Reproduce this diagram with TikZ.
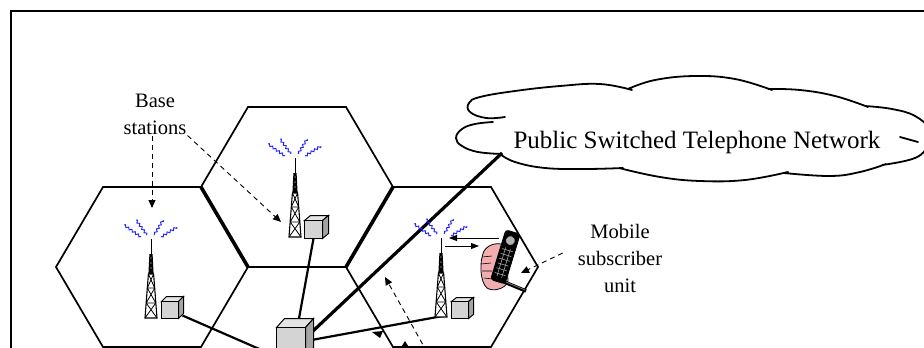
\documentclass[tikz,border=0pt]{standalone}
\usepackage{fontspec}
\setmainfont{Liberation Serif}
\usetikzlibrary{arrows.meta,decorations.pathmorphing,calc}
\definecolor{boxfront}{HTML}{D4D4D4}
\definecolor{boxtop}{HTML}{E4E4E4}
\definecolor{boxside}{HTML}{A4A4A4}
\definecolor{skin}{HTML}{F2AEAE}
\definecolor{wave}{HTML}{1E1EFF}

\begin{document}
\begin{tikzpicture}[x=1pt,y=-1pt,
  cell/.style={line width=1.7pt, line join=miter},
  sharededge/.style={line width=3.6pt},
  link/.style={line width=2.2pt},
  trunk/.style={line width=3.2pt},
  pointer/.style={dash pattern=on 5pt off 4pt, line width=0.9pt, -{Triangle[length=8pt,width=7pt]}},
  signal/.style={line width=0.9pt, -{Triangle[length=8pt,width=6pt]}},
  unitbox/.style={draw, line width=1pt, fill=boxfront, inner sep=0pt, minimum width=#1, minimum height=#1},
  caption/.style={font=\fontsize{20.5}{27}\selectfont, align=center, inner sep=1pt},
  cloudline/.style={line width=1.8pt, line cap=round, line join=round},
  radio/.style={wave, line width=0.9pt, decorate, decoration={zigzag, amplitude=1.1pt, segment length=4pt}},
  tower/.pic={
    % lattice mast with antenna and radiated signal marks
    \draw[line width=1pt] (0,-79) -- (0,-62);
    \fill (-1.6,-64) -- (1.6,-64) -- (2.6,-44) -- (-2.6,-44) -- cycle;
    \foreach \yy in {-60,-55,-50} \fill[white] (0,\yy) circle (0.6);
    \draw[line width=1.1pt, fill=white] (-2.6,-44) -- (2.6,-44) -- (6,0) -- (-6,0) -- cycle;
    \draw[line width=0.8pt] (-2.6,-44) -- (3.7,-30) (2.6,-44) -- (-3.7,-30)
      (-3.7,-30) -- (3.7,-30) (-3.7,-30) -- (4.8,-15) (3.7,-30) -- (-4.8,-15)
      (-4.8,-15) -- (4.8,-15) (-4.8,-15) -- (6,0) (4.8,-15) -- (-6,0);
    \begin{scope}[shift={(0,-79)}]
      \draw[radio] (-27,-14) -- (-10,-2);
      \draw[radio] (-15,-19) -- (-4,-4);
      \draw[radio] (12,-19) -- (3,-4);
      \draw[radio] (26,-12) -- (10,-2);
    \end{scope}
  },
]
\useasboundingbox (0,0) rectangle (924,348);
\clip (0,0) rectangle (924,348);

% frame
\draw[line width=2pt] (11,360) -- (11,11) -- (940,11);

% cells
\coordinate (cL) at (152,267);
\coordinate (cT) at (297,187);
\coordinate (cR) at (442,267);
\foreach \c in {cL,cT,cR}
  \draw[cell] ([shift={(96,0)}]\c) -- ([shift={(49,-80)}]\c) -- ([shift={(-49,-80)}]\c)
    -- ([shift={(-96,0)}]\c) -- ([shift={(-49,80)}]\c) -- ([shift={(49,80)}]\c) -- cycle;
\draw[sharededge] ([shift={(49,-80)}]cL) -- ([shift={(96,0)}]cL);
\draw[sharededge] ([shift={(-96,0)}]cR) -- ([shift={(-49,-80)}]cR);

% cloud
\draw[cloudline]
  plot[smooth, tension=0.7] coordinates {(505,117) (486,118) (470,112) (469,103) (480,97) (515,91) (560,86) (600,84) (632,90)}
  plot[smooth, tension=0.7] coordinates {(628,89) (655,80) (695,76) (735,79) (772,90)}
  plot[smooth, tension=0.7] coordinates {(768,89) (800,90) (835,96) (868,107)}
  plot[smooth, tension=0.7] coordinates {(865,106) (892,109) (915,116) (930,130) (928,145) (915,158) (882,165)}
  plot[smooth, tension=0.7] coordinates {(886,164) (860,172) (830,176) (784,173)}
  plot[smooth, tension=0.7] coordinates {(788,172) (745,180) (700,181) (660,177) (619,168)}
  plot[smooth, tension=0.7] coordinates {(623,168) (585,169) (545,168) (515,162) (500,154)}
  plot[smooth, tension=0.7] coordinates {(502,154) (478,152) (462,146) (456,138) (462,129) (475,124) (493,122)};
\draw[cloudline] (900,137) -- (918,142);
\node[font=\fontsize{25}{30}\selectfont, inner sep=0pt] (pstnlabel) at (697,142) {Public Switched Telephone Network};
\coordinate (cloudlink) at (502,153);

% equipment units
\node[unitbox=16] (lbox) at (170,310) {};
\node[unitbox=17] (tbox) at (313.5,229.5) {};
\node[unitbox=16] (rbox) at (460,310) {};
\node[unitbox=28] (msc) at (291,342) {};

% wiring between units
\draw[link] ($(lbox.south east)+(4,-3)$) -- (msc.south west);
\draw[link] (tbox.south) -- ($(msc.north)+(8,-9)$);
\draw[link] ($(msc.east)+(6,-2)$) -- ($(rbox.south west)+(-6,-3)$);
\draw[trunk] ($(msc.north east)+(7,4)$) -- (cloudlink);

% 3-D faces of the units
\foreach \n/\d/\e in {lbox/5/5, tbox/6/5, rbox/5/4, msc/8/9} {
  \filldraw[line width=1pt, fill=boxtop] (\n.north west) -- ++(\d,-\e) -- ($(\n.north east)+(\d,-\e)$) -- (\n.north east) -- cycle;
  \filldraw[line width=1pt, fill=boxside] (\n.north east) -- ++(\d,-\e) -- ($(\n.south east)+(\d,-\e)$) -- (\n.south east) -- cycle;
}
\foreach \n in {lbox,tbox,rbox,msc}
  \draw[line width=1pt, fill=boxfront] (\n.north west) rectangle (\n.south east);

% base station towers
\pic at (151,318) {tower};
\pic at (295,237) {tower};
\pic at (441,317) {tower};

% hand-held mobile unit
\filldraw[fill=skin, line width=0.8pt] (484,251) .. controls (489,243) and (500,242) .. (506,246)
  -- (508,281) .. controls (506,289) and (493,292) .. (487,288) .. controls (480,282) and (479,262) .. (484,251) -- cycle;
\draw[line width=0.6pt] (482,257) -- (492,256) (481,264) -- (491,263) (482,271) -- (492,271) (484,278) -- (493,279);
\draw[line width=3.5pt] (497,279) -- (526,291);
\draw[gray, line width=0.7pt] (499,279) -- (525,290);
\begin{scope}[shift={(513,232)}, rotate=-17]
  \filldraw[rounded corners=3pt, line width=0.8pt] (-7.5,0) rectangle (7.5,52);
  \filldraw[fill=gray!60, line width=0.8pt] (0,9) circle (5);
  \foreach \yy in {19,24,...,44} \draw[gray!70, line width=0.6pt] (-5.5,\yy) -- (5.5,\yy);
  \foreach \xx in {-2.5,2.5} \draw[gray!70, line width=0.6pt] (\xx,17) -- (\xx,47);
\end{scope}

% radio link between tower and handset
\coordinate (dlstart) at (499,238);
\coordinate (dlend) at (449,238);
\coordinate (ulstart) at (445,246);
\coordinate (ulend) at (479,246);
\draw[signal] (dlstart) -- (dlend);
\draw[signal] (ulstart) -- (ulend);

% labels and pointers
\node[caption] (basetext) at (155,114) {Base\\stations};
\node[caption] (mobiletext) at (620,258) {Mobile\\subscriber\\unit};
\coordinate (bsL) at (152,208);
\coordinate (bsT) at (281,222);
\coordinate (msu) at (521,273);
\coordinate (lowfoot) at (427,352);
\coordinate (lowtip) at (385,277);
\draw[pointer] (basetext.south -| bsL) -- (bsL);
\draw[pointer] (basetext.south east) -- (bsT);
\draw[pointer] ([xshift=-14pt,yshift=5pt]mobiletext.west) -- (msu);
\draw[pointer] (lowfoot) -- (lowtip);
\fill (372,332) -- (383,331) -- (380,338) -- cycle;
\fill (405,341) -- (400,349) -- (410,349) -- cycle;
\end{tikzpicture}
\end{document}
